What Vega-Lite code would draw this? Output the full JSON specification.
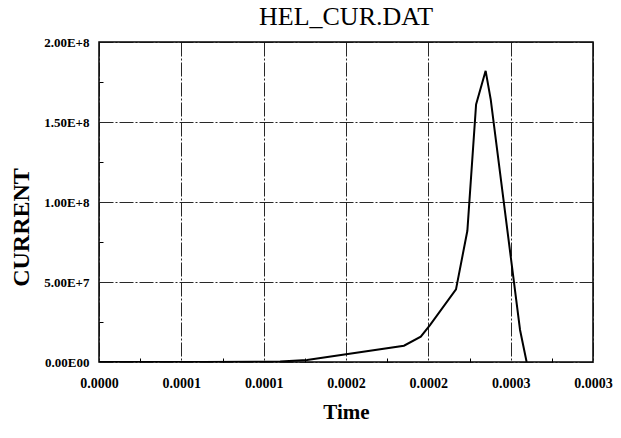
{
  "$schema": "https://vega.github.io/schema/vega-lite/v6.json",
  "autosize": "none",
  "width": 494,
  "height": 320,
  "padding": {"left": 99, "top": 42, "right": 28, "bottom": 76},
  "background": "white",
  "title": {
    "text": "HEL_CUR.DAT",
    "font": "Liberation Serif",
    "fontSize": 26,
    "fontWeight": "normal",
    "color": "black",
    "anchor": "middle",
    "offset": 6
  },
  "data": {
    "values": [
      {"t": 0, "I": 0},
      {"t": 0.000063, "I": 0},
      {"t": 0.000110, "I": 300000},
      {"t": 0.0001263, "I": 1250000},
      {"t": 0.0001852, "I": 10200000},
      {"t": 0.0001954, "I": 15800000},
      {"t": 0.000201, "I": 23100000},
      {"t": 0.0002168, "I": 45400000},
      {"t": 0.0002237, "I": 82000000},
      {"t": 0.000229, "I": 161000000},
      {"t": 0.0002348, "I": 182000000},
      {"t": 0.0002379, "I": 164000000},
      {"t": 0.0002557, "I": 20000000},
      {"t": 0.0002597, "I": 0}
    ]
  },
  "mark": {"type": "line", "color": "black", "strokeWidth": 2, "clip": true},
  "encoding": {
    "x": {
      "field": "t",
      "type": "quantitative",
      "scale": {"domain": [0, 0.0003], "nice": false},
      "axis": {
        "title": "Time",
        "titleFont": "Liberation Serif",
        "titleFontSize": 21,
        "titleFontWeight": "bold",
        "titleColor": "black",
        "titleBaseline": "alphabetic",
        "titleY": 56,
        "values": [0, 0.000025, 0.00005, 0.000075, 0.0001, 0.000125, 0.00015, 0.000175, 0.0002, 0.000225, 0.00025, 0.000275, 0.0003],
        "labelExpr": "round(datum.value/0.000025) % 2 == 0 ? format(datum.value + 1e-9, '.4f') : ''",
        "labelFont": "Liberation Serif",
        "labelFontSize": 14,
        "labelFontWeight": "bold",
        "labelColor": "black",
        "labelPadding": 18,
        "labelOverlap": false,
        "labelFlush": false,
        "domain": false,
        "ticks": true,
        "tickSize": -4,
        "tickColor": "black",
        "tickOpacity": {"condition": {"test": "round(datum.value/0.000025) % 2 == 1", "value": 1}, "value": 0},
        "grid": true,
        "gridColor": "#111111",
        "gridDash": [14, 2, 2, 2],
        "gridWidth": 1,
        "gridOpacity": {"condition": {"test": "round(datum.value/0.000025) % 2 == 0", "value": 0.9}, "value": 0}
      }
    },
    "y": {
      "field": "I",
      "type": "quantitative",
      "scale": {"domain": [0, 200000000], "nice": false},
      "axis": {
        "title": "CURRENT",
        "titleFont": "Liberation Serif",
        "titleFontSize": 24,
        "titleFontWeight": "bold",
        "titleColor": "black",
        "titleX": -71,
        "titleY": 185,
        "titleAlign": "center",
        "titleAngle": -90,
        "titleBaseline": "alphabetic",
        "values": [0, 25000000, 50000000, 75000000, 100000000, 125000000, 150000000, 175000000, 200000000],
        "labelExpr": "datum.value == 0 ? '0.00E00' : (round(datum.value/25000000) % 2 == 0 ? replace(format(datum.value, '.2e'), 'e', 'E') : '')",
        "labelFont": "Liberation Serif",
        "labelFontSize": 13,
        "labelFontWeight": "bold",
        "labelColor": "black",
        "labelPadding": 14,
        "labelOverlap": false,
        "labelFlush": false,
        "domain": false,
        "ticks": true,
        "tickSize": -4,
        "tickColor": "black",
        "tickOpacity": {"condition": {"test": "round(datum.value/25000000) % 2 == 1", "value": 1}, "value": 0},
        "grid": true,
        "gridColor": "#111111",
        "gridDash": [14, 2, 2, 2],
        "gridWidth": 1,
        "gridOpacity": {"condition": {"test": "round(datum.value/25000000) % 2 == 0", "value": 0.9}, "value": 0}
      }
    }
  },
  "config": {
    "view": {"stroke": "black", "strokeWidth": 1.5}
  }
}
